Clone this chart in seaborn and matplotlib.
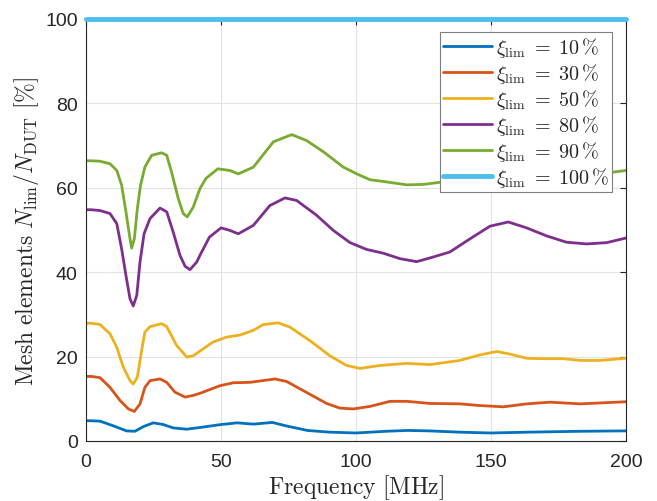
import matplotlib
matplotlib.use("Agg")
import matplotlib.pyplot as plt
import pandas as pd
import seaborn as sns

# Mesh element share versus frequency for several limit ratios xi_lim
freq_10 = [0, 2, 5.2, 10.1, 15, 18.1, 21.2, 24.9, 28.6, 32.3, 37.3, 42.2, 50, 56,
           62, 69, 74, 82, 90, 100, 111, 119, 127, 138, 150, 164, 183, 200]
val_10 = [4.8, 4.8, 4.7, 3.6, 2.4, 2.3, 3.4, 4.3, 3.9, 3.1, 2.8, 3.2, 3.9, 4.3,
          4.0, 4.4, 3.6, 2.5, 2.1, 1.9, 2.3, 2.5, 2.4, 2.1, 1.9, 2.1, 2.3, 2.4]

freq_30 = [0, 2, 5.2, 8.9, 12.6, 15.7, 17.9, 20.0, 21.8, 23.7, 27.4, 29.9, 32.9,
           36.7, 39.7, 42.2, 49.6, 54.6, 60.7, 70, 74.3, 81.7, 89.1, 94, 99, 105.2,
           112.6, 118.8, 127.4, 138.5, 145.9, 154.6, 163.2, 171.9, 183, 200]
val_30 = [15.3, 15.3, 15.0, 12.7, 9.6, 7.6, 7.0, 8.8, 12.7, 14.3, 14.7, 13.9, 11.6,
          10.4, 10.8, 11.3, 13.1, 13.8, 13.9, 14.7, 14.1, 11.5, 8.9, 7.8, 7.6, 8.2,
          9.4, 9.4, 8.9, 8.8, 8.4, 8.1, 8.8, 9.2, 8.8, 9.3]

freq_50 = [0, 2, 5.2, 8.9, 11.4, 13.8, 16.3, 17.5, 19.0, 20.6, 21.8, 23.7, 28.0,
           29.9, 33.6, 37.3, 39.7, 42.2, 46.9, 51.9, 57, 61.9, 65.7, 71.2, 75.5,
           82.9, 90.3, 96.5, 101.5, 108.9, 118.8, 127.4, 138.5, 145.9, 152.1, 157,
           163.2, 169.4, 176.8, 183, 190.4, 200]
val_50 = [27.9, 27.9, 27.6, 25.4, 22.2, 17.5, 14.3, 13.5, 15.1, 21.4, 25.8, 27.1,
          27.8, 27.1, 22.6, 19.9, 20.2, 21.3, 23.4, 24.6, 25.1, 26.2, 27.6, 28.0,
          27.0, 23.8, 20.2, 17.9, 17.2, 17.9, 18.4, 18.1, 19.1, 20.4, 21.2, 20.6,
          19.6, 19.5, 19.5, 19.1, 19.1, 19.6]

freq_80 = [0, 2, 5.2, 8.9, 11.4, 13.2, 14.8, 16.3, 17.5, 18.8, 20.0, 21.5, 23.7,
           27.4, 29.9, 32.3, 34.8, 36.7, 38.5, 41.0, 42.2, 45.7, 50, 53.3, 56.4, 62,
           68.1, 73.7, 78, 85.4, 91.6, 97.8, 103.9, 110.1, 116.3, 122.5, 128.6,
           134.8, 142.2, 149.6, 156.4, 163.2, 170.6, 178, 185.4, 192.8, 200]
val_80 = [54.8, 54.8, 54.6, 53.9, 51.5, 45.5, 39.2, 33.7, 32.0, 34.5, 42.4, 49.1,
          52.7, 55.2, 54.3, 49.5, 44.0, 41.4, 40.6, 42.4, 44.0, 48.3, 50.5, 49.9,
          49.1, 51.1, 55.8, 57.6, 57.0, 53.5, 49.9, 47.0, 45.4, 44.5, 43.2, 42.5,
          43.6, 44.8, 47.9, 50.9, 51.9, 50.5, 48.6, 47.1, 46.7, 47.0, 48.1]

freq_90 = [0, 2, 5.2, 8.9, 11.4, 13.2, 14.8, 16.1, 16.9, 17.9, 19.0, 20.2, 21.8,
           24.3, 28.0, 29.9, 31.7, 34.2, 36.0, 37.5, 39.7, 42.2, 44.4, 48.8, 53.3,
           56.4, 62, 69.4, 76.2, 81.7, 88, 95.3, 100.3, 105.2, 110.1, 118.8, 124.9,
           131, 145, 160, 175, 188, 195, 200]
val_90 = [66.4, 66.4, 66.3, 65.7, 64.1, 60.6, 54.3, 48.7, 45.7, 47.9, 55.0, 60.6,
          64.9, 67.7, 68.3, 67.7, 63.7, 57.4, 53.9, 53.1, 55.4, 59.8, 62.2, 64.5,
          64.1, 63.3, 64.9, 70.9, 72.6, 71.2, 68.5, 64.9, 63.3, 61.9, 61.5, 60.7,
          60.8, 61.3, 61.8, 62.2, 62.7, 63.2, 63.7, 64.1]

freq_100 = [0, 200]
val_100 = [100, 100]

limits = ["10", "30", "50", "80", "90", "100"]
series_freq = [freq_10, freq_30, freq_50, freq_80, freq_90, freq_100]
series_val = [val_10, val_30, val_50, val_80, val_90, val_100]
colors = ["#0072BD", "#D95319", "#EDB120", "#7E2F8E", "#77AC30", "#4DBEEE"]
widths = [2.0, 2.0, 2.0, 2.0, 2.0, 3.5]

x_ticks = [0, 50, 100, 150, 200]
y_ticks = [0, 20, 40, 60, 80, 100]

sns.set_theme(style="whitegrid")
plt.rcParams.update({
    "font.family": ["Liberation Sans", "DejaVu Sans"],
    "mathtext.fontset": "cm",
    "axes.edgecolor": "#262626",
    "axes.linewidth": 0.8,
    "grid.color": "#e3e3e3",
    "grid.linewidth": 0.8,
    "xtick.color": "#262626",
    "ytick.color": "#262626",
})

fig = plt.figure(figsize=(6.57, 5.02), dpi=100)
ax = fig.add_axes([86 / 657, 1 - 442 / 502, 540 / 657, 422 / 502])

for lim, f, v, c, lw in zip(limits, series_freq, series_val, colors, widths):
    df = pd.DataFrame({"freq": f, "share": v})
    full = lim == "100"
    sns.lineplot(data=df, x="freq", y="share", ax=ax, color=c, linewidth=lw,
                 estimator=None, sort=False,
                 label=r"$\xi_{\mathrm{lim}}\;=\;%s\,\%%$" % lim,
                 clip_on=not full, zorder=3 if full else 2,
                 solid_joinstyle="round")

ax.set_xlim(0, 200)
ax.set_ylim(0, 100)
ax.set_xticks(x_ticks)
ax.set_yticks(y_ticks)
ax.tick_params(axis="both", which="both", direction="in", length=4, width=0.8,
               labelsize=14, top=True, right=True, colors="#262626")
ax.tick_params(axis="x", pad=9)
ax.tick_params(axis="y", pad=6)
for s in ax.spines.values():
    s.set_visible(True)
    s.set_color("#262626")
    s.set_linewidth(0.8)
ax.grid(True)

ax.set_xlabel(r"$\mathrm{Frequency}\ [\mathrm{MHz}]$", fontsize=17, labelpad=1)
ax.set_ylabel(r"$\mathrm{Mesh\ elements}\ N_{\mathrm{lim}}/N_{\mathrm{DUT}}\ [\%]$",
              fontsize=17, labelpad=3)

leg = ax.legend(loc="upper right",
                bbox_to_anchor=((612 - 86) / 540, (442 - 33) / 422),
                borderaxespad=0, fontsize=14.5, frameon=True, fancybox=False,
                framealpha=1, edgecolor="#7f7f7f", handlelength=2.45,
                handletextpad=0.2, labelspacing=0.1, borderpad=0.15)
leg.get_frame().set_linewidth(0.8)

fig.savefig("out.png", dpi=100)
